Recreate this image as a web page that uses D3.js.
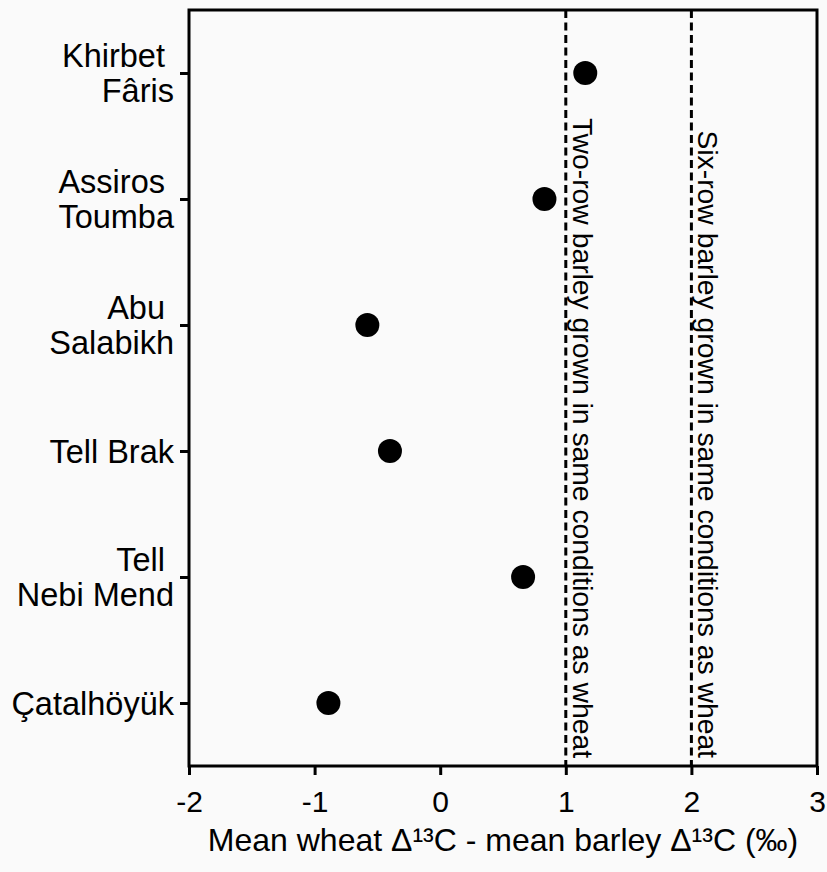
<!DOCTYPE html>
<html>
<head>
<meta charset="utf-8">
<script src="https://cdn.jsdelivr.net/npm/d3@7"></script>
<style>
  html, body { margin: 0; padding: 0; background: #fafafa; }
  svg { display: block; }
  text { font-family: "Liberation Sans", Arial, sans-serif; fill: #000; }
</style>
</head>
<body>
<script>
// Data
const sites = ["Khirbet Fâris", "Assiros Toumba", "Abu Salabikh", "Tell Brak", "Tell Nebi Mend", "Çatalhöyük"];
const siteLines = [["Khirbet ", "Fâris"], ["Assiros ", "Toumba"], ["Abu ", "Salabikh"], ["Tell Brak"], ["Tell ", "Nebi Mend"], ["Çatalhöyük"]];
const values = [1.155, 0.83, -0.58, -0.40, 0.66, -0.89];
const xTicks = [-2, -1, 0, 1, 2, 3];
const refValues = [1, 2];
const refLabels = ["Two-row barley grown in same conditions as wheat", "Six-row barley grown in same conditions as wheat"];
const xTitle = "Mean wheat \u0394\u00B9\u00B3C - mean barley \u0394\u00B9\u00B3C (\u2030)";

const W = 827, H = 872;
const m = { left: 189, right: 10, top: 10, bottom: 106 };
const iw = W - m.left - m.right, ih = H - m.top - m.bottom;

const svg = d3.select("body").append("svg").attr("width", W).attr("height", H);
svg.append("rect").attr("width", W).attr("height", H).attr("fill", "#fafafa");
const g = svg.append("g").attr("transform", `translate(${m.left},${m.top})`);

const x = d3.scaleLinear().domain([-2, 3]).range([0, iw]);
const y = d3.scalePoint().domain(sites).range([0, ih]).padding(0.5);

// reference lines
g.selectAll(".ref").data(refValues).join("line")
  .attr("x1", d => x(d)).attr("x2", d => x(d))
  .attr("y1", 0).attr("y2", ih)
  .attr("stroke", "#000").attr("stroke-width", 3)
  .attr("stroke-dasharray", "8,4.5");

g.selectAll(".reflab").data(refValues).join("text")
  .attr("transform", d => `translate(${x(d) + 7},${ih - 8}) rotate(90)`)
  .attr("text-anchor", "end")
  .attr("font-size", 28.3)
  .text((d, i) => refLabels[i]);

// frame
g.append("rect").attr("width", iw).attr("height", ih)
  .attr("fill", "none").attr("stroke", "#000").attr("stroke-width", 3);

// x axis
const xa = g.append("g").attr("transform", `translate(0,${ih})`)
  .call(d3.axisBottom(x).tickValues(xTicks).tickSize(9).tickFormat(d3.format("d")));
xa.select(".domain").remove();
xa.selectAll(".tick line").attr("stroke", "#000").attr("stroke-width", 3);
xa.selectAll(".tick text").attr("font-size", 30).attr("dy", null).attr("y", 46)
  .text(d => d < 0 ? "-" + Math.abs(d) : d);

// y axis
const ya = g.append("g")
  .call(d3.axisLeft(y).tickSize(9).tickFormat(""));
ya.select(".domain").remove();
ya.selectAll(".tick line").attr("stroke", "#000").attr("stroke-width", 3);
ya.selectAll(".tick").each(function(d, i) {
  const lines = siteLines[i];
  const t = d3.select(this).append("text")
    .attr("text-anchor", "end").attr("font-size", 32.5)
    .attr("xml:space", "preserve");
  if (lines.length === 1) {
    t.append("tspan").attr("x", -15).attr("y", 11).text(lines[0]);
  } else {
    t.append("tspan").attr("x", -15).attr("y", -7).text(lines[0]);
    t.append("tspan").attr("x", -15).attr("y", 28).text(lines[1]);
  }
});

// points
g.selectAll(".pt").data(values).join("circle")
  .attr("cx", d => x(d)).attr("cy", (d, i) => y(sites[i]))
  .attr("r", 12).attr("fill", "#000");

// x title
svg.append("text").attr("x", m.left + iw / 2).attr("y", 851)
  .attr("text-anchor", "middle").attr("font-size", 32)
  .text(xTitle);
</script>
</body>
</html>
